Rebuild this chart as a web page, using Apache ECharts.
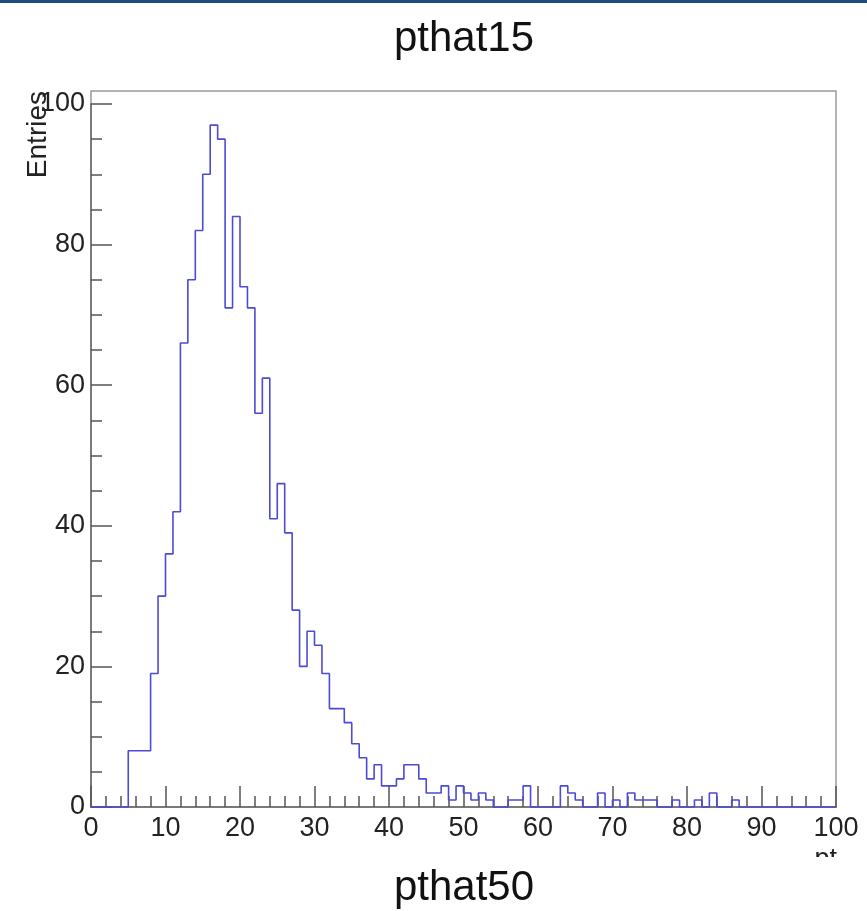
<!DOCTYPE html>
<html><head><meta charset="utf-8">
<script src="https://cdn.jsdelivr.net/npm/echarts@6/dist/echarts.min.js"></script>
<style>html,body{margin:0;padding:0;background:#fff}#c{width:867px;height:911px}</style>
</head><body><div id="c"></div>
<script>
// Histogram "pthat15": 100 bins of width 1 between 0 and 100 (pt)
const xMin = 0;
const xMax = 100;
const binWidth = 1;
const counts = [
  0, 0, 0, 0, 0,   8, 8, 8, 19, 30,
  36, 42, 66, 75, 82,   90, 97, 95, 71, 84,
  74, 71, 56, 61, 41,   46, 39, 28, 20, 25,
  23, 19, 14, 14, 12,   9, 7, 4, 6, 3,
  3, 4, 6, 6, 4,   2, 2, 3, 1, 3,
  2, 1, 2, 1, 0,   0, 1, 1, 3, 0,
  0, 0, 0, 3, 2,   1, 0, 0, 2, 0,
  1, 0, 2, 1, 1,   1, 0, 0, 1, 0,
  0, 1, 0, 2, 0,   0, 1, 0, 0, 0,
  0, 0, 0, 0, 0,   0, 0, 0, 0, 0
];
const xTickLabels = ['0','10','20','30','40','50','60','70','80','90','100'];
const yTickLabels = ['0','20','40','60','80','100'];
const titleTop = 'pthat15';
const titleBottom = 'pthat50';
const xTitle = 'pt';
const yTitle = 'Entries';

// step data: low edge of every bin, plus the last upper edge
const stepData = counts.map((v, i) => [xMin + i * binWidth, v]);
stepData.push([xMin + counts.length * binWidth, counts[counts.length - 1]]);

const FONT = '"Liberation Sans", Arial, Helvetica, sans-serif';
const chart = echarts.init(document.getElementById('c'), null, {renderer: 'canvas'});

const frameTop = 91, frameBottom = 807, left = 91, width = 745;
const yFrameMax = 101.85; // ROOT: 1.05 * max bin
const plotTop = frameBottom - (frameBottom - frameTop) * 100 / yFrameMax;

chart.setOption({
  animation: false,
  backgroundColor: '#ffffff',
  grid: [
    {left: left, width: width, top: frameTop, height: frameBottom - frameTop,
     show: true, borderColor: '#9a9a9a', borderWidth: 1.5, backgroundColor: 'transparent'},
    {left: left, width: width, top: plotTop, height: frameBottom - plotTop, show: false}
  ],
  xAxis: [
    {gridIndex: 0, type: 'value', min: 0, max: 1, show: false},
    {gridIndex: 1, type: 'value', min: xMin, max: xMax, interval: 10,
     axisLine: {show: true, onZero: false, lineStyle: {color: '#7a7a7a', width: 2}},
     axisTick: {show: true, inside: true, length: 21, lineStyle: {color: '#555', width: 1.5}},
     minorTick: {show: true, splitNumber: 5, length: 11, lineStyle: {color: '#555', width: 1.5}},
     splitLine: {show: false}, minorSplitLine: {show: false},
     axisLabel: {fontSize: 27, color: '#222', fontFamily: FONT, margin: 8,
       formatter: v => xTickLabels[Math.round(v / 10)]}}
  ],
  yAxis: [
    {gridIndex: 0, type: 'value', min: 0, max: 1, show: false},
    {gridIndex: 1, type: 'value', min: 0, max: 100, interval: 20,
     axisLine: {show: true, onZero: false, lineStyle: {color: '#7a7a7a', width: 2}},
     axisTick: {show: true, inside: true, length: 21, lineStyle: {color: '#555', width: 1.5}},
     minorTick: {show: true, splitNumber: 4, length: 11, lineStyle: {color: '#555', width: 1.5}},
     splitLine: {show: false}, minorSplitLine: {show: false},
     axisLabel: {fontSize: 27, color: '#222', fontFamily: FONT, margin: 6,
       formatter: v => yTickLabels[Math.round(v / 20)]}}
  ],
  series: [{
    type: 'line', xAxisIndex: 1, yAxisIndex: 1,
    step: 'end', symbol: 'none', clip: false,
    data: stepData,
    lineStyle: {color: '#4b4bd6', width: 1.6}
  }],
  graphic: [
    {type: 'rect', shape: {x: 0, y: 0, width: 867, height: 3}, style: {fill: '#1d4d80'}, z: 100},
    {type: 'text', x: 464, y: 39, style: {text: titleTop, fontSize: 42, fontFamily: FONT, fill: '#111', align: 'center', verticalAlign: 'middle'}},
    {type: 'text', x: 38, y: 91, rotation: Math.PI / 2,
     style: {text: yTitle, fontSize: 28, fontFamily: FONT, fill: '#222', align: 'right', verticalAlign: 'middle'}},
    {type: 'text', x: 837, y: 846, style: {text: xTitle, fontSize: 27, fontFamily: FONT, fill: '#222', align: 'right', verticalAlign: 'top'}, z: 10},
    {type: 'rect', shape: {x: 780, y: 857, width: 87, height: 26}, style: {fill: '#ffffff'}, z: 20},
    {type: 'text', x: 464, y: 888, style: {text: titleBottom, fontSize: 42, fontFamily: FONT, fill: '#111', align: 'center', verticalAlign: 'middle'}}
  ]
});
</script></body></html>
